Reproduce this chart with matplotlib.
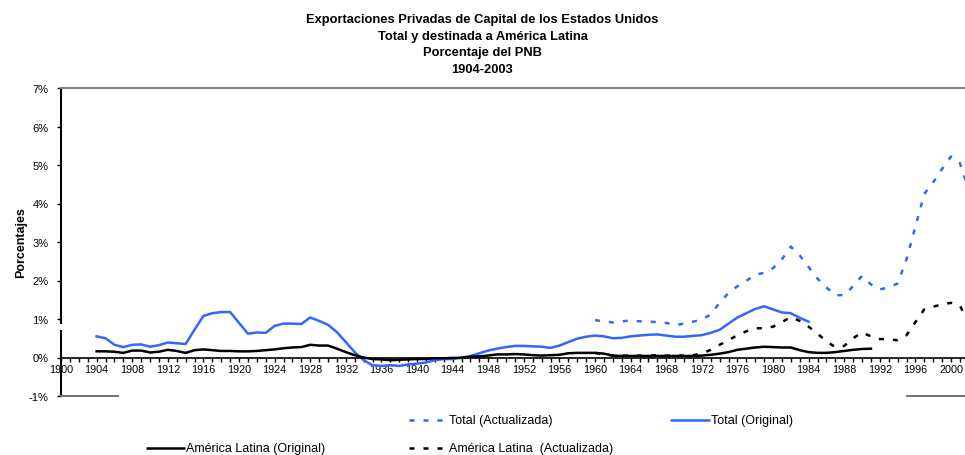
import numpy as np
import matplotlib.pyplot as plt
from matplotlib.lines import Line2D

plt.rcParams['font.family'] = ['Liberation Sans', 'DejaVu Sans']

# ---- data (percent of GNP) ----
years_orig = list(range(1904, 1985))
total_orig = [0.55, 0.50, 0.33, 0.27, 0.33, 0.34, 0.28, 0.32, 0.39, 0.37,
              0.35, 0.72, 1.08, 1.15, 1.18, 1.18, 0.90, 0.62, 0.65, 0.64,
              0.82, 0.88, 0.88, 0.87, 1.04, 0.95, 0.85, 0.66, 0.40, 0.14,
              -0.07, -0.20, -0.22, -0.20, -0.22, -0.18, -0.16, -0.13, -0.07, -0.04,
              -0.04, 0.00, 0.04, 0.11, 0.18, 0.23, 0.27, 0.30, 0.30, 0.29,
              0.28, 0.25, 0.31, 0.40, 0.49, 0.54, 0.57, 0.55, 0.50, 0.51,
              0.55, 0.57, 0.59, 0.60, 0.57, 0.54, 0.54, 0.56, 0.58, 0.64,
              0.72, 0.88, 1.04, 1.15, 1.26, 1.33, 1.25, 1.17, 1.15, 1.03,
              0.93]

years_act = list(range(1960, 2003))
total_act = [0.97, 0.94, 0.91, 0.94, 0.96, 0.94, 0.93, 0.92, 0.90, 0.84,
             0.88, 0.93, 0.98, 1.12, 1.42, 1.68, 1.85, 1.99, 2.15, 2.20,
             2.32, 2.55, 2.88, 2.65, 2.35, 2.05, 1.82, 1.62, 1.62, 1.85,
             2.12, 1.90, 1.77, 1.82, 1.92, 2.55, 3.40, 4.25, 4.55, 4.90,
             5.22, 5.05, 4.35]

years_al_orig = list(range(1904, 1992))
al_orig = [0.16, 0.16, 0.15, 0.12, 0.18, 0.18, 0.13, 0.15, 0.20, 0.17,
           0.12, 0.19, 0.21, 0.19, 0.17, 0.17, 0.16, 0.16, 0.17, 0.19,
           0.21, 0.24, 0.26, 0.27, 0.33, 0.31, 0.31, 0.23, 0.14, 0.06,
           0.00, -0.04, -0.05, -0.07, -0.06, -0.05, -0.04, -0.04, -0.02, -0.02,
           -0.01, -0.01, 0.02, 0.03, 0.05, 0.08, 0.08, 0.09, 0.08, 0.06,
           0.05, 0.06, 0.07, 0.11, 0.12, 0.12, 0.12, 0.10, 0.05, 0.04,
           0.04, 0.04, 0.04, 0.04, 0.04, 0.04, 0.04, 0.04, 0.05, 0.07,
           0.10, 0.14, 0.20, 0.23, 0.26, 0.28, 0.27, 0.26, 0.26, 0.19,
           0.14, 0.12, 0.12, 0.14, 0.17, 0.20, 0.22, 0.23]

years_al_act = list(range(1960, 2003))
al_act = [0.12, 0.08, 0.05, 0.05, 0.05, 0.05, 0.05, 0.06, 0.05, 0.05,
          0.05, 0.06, 0.10, 0.20, 0.33, 0.45, 0.58, 0.68, 0.76, 0.76,
          0.80, 0.92, 1.05, 0.95, 0.80, 0.62, 0.42, 0.27, 0.30, 0.50,
          0.65, 0.55, 0.48, 0.47, 0.45, 0.58, 0.92, 1.25, 1.32, 1.38,
          1.42, 1.35, 0.90]

tick_years = list(range(1900, 2002))
y_ticks = list(range(-1, 8))

title = ("Exportaciones Privadas de Capital de los Estados Unidos\n"
         "Total y destinada a América Latina\n"
         "Porcentaje del PNB\n"
         "1904-2003")

BLUE = '#3366ff'
W, H = 965, 456
X_END = 1900 + 904 / 8.9  # right edge of the figure in data units


def fx(px):
    return px / W


def fy(py):
    return 1 - py / H


fig = plt.figure(figsize=(9.65, 4.56), dpi=100)
ax = fig.add_axes([fx(61), fy(397), 1 - fx(61), fy(89) - fy(397)])
ax.set_xlim(1900, X_END)
ax.set_ylim(-1, 7)

dots = (2, 3.6)
ax.plot(years_orig, total_orig, color=BLUE, lw=1.8, solid_joinstyle='round')
ax.plot(years_act, total_act, color=BLUE, lw=1.8, dashes=dots, dash_capstyle='butt')
ax.plot(years_al_orig, al_orig, color='black', lw=1.8, solid_joinstyle='round')
ax.plot(years_al_act, al_act, color='black', lw=1.8, dashes=dots, dash_capstyle='butt')

# spines
ax.spines['right'].set_visible(False)
ax.spines['left'].set_visible(False)
ax.spines['top'].set_color('#808080')
ax.spines['top'].set_linewidth(1.5)
ax.spines['bottom'].set_position(('data', 0))
ax.spines['bottom'].set_linewidth(1.2)

# broken value axis
for y0, y1 in [(-1, 0.72), (0.86, 7)]:
    ax.plot([1900, 1900], [y0, y1], color='black', lw=1.5, clip_on=False,
            solid_capstyle='butt')

# plot area border remnants at -1%
ax.plot([1900, 1900 + 57 / 8.9], [-1, -1], color='#666666', lw=1.3, clip_on=False)
ax.plot([1900 + 846 / 8.9, X_END], [-1, -1], color='#666666', lw=1.3, clip_on=False)

ax.set_xticks(tick_years)
ax.set_xticklabels([str(y) if y % 4 == 0 else '' for y in tick_years])
ax.tick_params(axis='x', direction='out', length=3, width=1, pad=1.5,
               labelsize=7.8, colors='black')

ax.set_yticks(y_ticks)
ax.set_yticklabels([f'{y}%' for y in y_ticks])
ax.tick_params(axis='y', direction='out', length=3, width=1, pad=6,
               labelsize=8, colors='black')

ax.set_ylabel('Porcentajes', fontsize=9, fontweight='bold', labelpad=1)

fig.text(0.5, fy(14), title, ha='center', va='top', fontsize=9.3,
         fontweight='bold', linespacing=1.52)

# legend drawn by hand to follow the original layout
legend_items = [
    (409, 443, 421, BLUE, True, 'Total (Actualizada)', 449),
    (670, 710, 421, BLUE, False, 'Total (Original)', 711),
    (146, 185, 449, 'black', False, 'América Latina (Original)', 186),
    (409, 443, 449, 'black', True, 'América Latina  (Actualizada)', 449),
]
for x0, x1, yy, col, dotted, label, tx in legend_items:
    ln = Line2D([fx(x0), fx(x1)], [fy(yy), fy(yy)], transform=fig.transFigure,
                color=col, lw=1.8, solid_capstyle='butt', dash_capstyle='butt')
    if dotted:
        ln.set_dashes(dots)
    fig.add_artist(ln)
    fig.text(fx(tx), fy(yy), label, ha='left', va='center', fontsize=9)

fig.savefig('out.png', dpi=100)
